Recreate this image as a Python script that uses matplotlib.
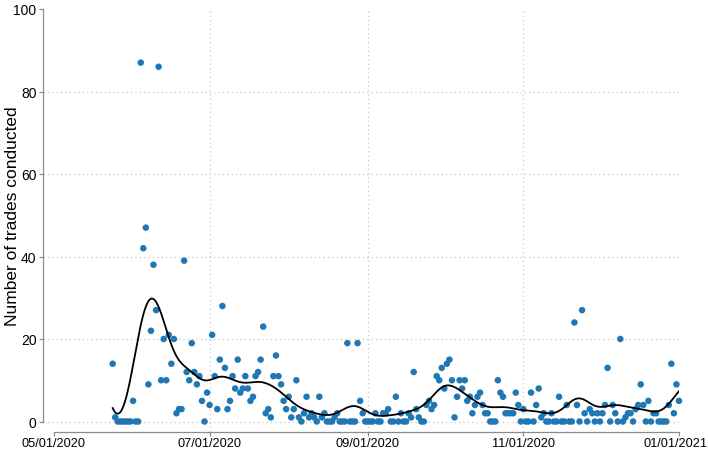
import numpy as np
import pandas as pd
import matplotlib
matplotlib.use("Agg")
import matplotlib.pyplot as plt
import matplotlib.dates as mdates
import matplotlib.transforms as mtransforms

# ---- data: daily number of trades, 24 May 2020 .. 1 Jan 2021 ----
start_date = "2020-05-24"
may = [14, 1, 0, 0, 0, 0, 0, 0]
jun = [5, 0, 0, 87, 42, 47, 9, 22, 38, 27, 86, 10, 20, 10, 21, 14, 20, 2, 3, 3,
       39, 12, 10, 19, 12, 9, 11, 5, 0, 7]
jul = [4, 21, 11, 3, 15, 28, 13, 3, 5, 11, 8, 15, 7, 8, 11, 8, 5, 6, 11, 12,
       15, 23, 2, 3, 1, 11, 16, 11, 9, 5, 3]
aug = [6, 1, 3, 10, 1, 0, 2, 6, 1, 2, 1, 0, 6, 1, 2, 0, 0, 0, 1, 2,
       0, 0, 0, 19, 0, 0, 0, 19, 5, 2, 0]
sep = [0, 0, 0, 2, 0, 0, 2, 2, 3, 0, 0, 6, 0, 2, 0, 0, 2, 1, 12, 3,
       1, 0, 0, 4, 5, 3, 4, 11, 10, 13]
oct_ = [8, 14, 15, 10, 1, 6, 10, 8, 10, 5, 6, 2, 4, 6, 7, 4, 2, 2, 0, 0,
        0, 10, 7, 6, 2, 2, 2, 2, 7, 4, 0]
nov = [3, 0, 0, 7, 0, 4, 8, 1, 2, 0, 0, 2, 0, 0, 6, 0, 0, 4, 0, 0,
       24, 4, 0, 27, 2, 0, 3, 2, 0, 2]
dec = [0, 2, 4, 13, 0, 4, 2, 0, 20, 0, 1, 2, 2, 0, 3, 4, 9, 4, 0, 5,
       0, 2, 2, 0, 0, 0, 0, 4, 14, 2, 9]
jan = [5]

values = np.array(may + jun + jul + aug + sep + oct_ + nov + dec + jan, dtype=float)
dates = pd.date_range(start_date, periods=len(values), freq="D")

tick_dates = pd.to_datetime(["2020-05-01", "2020-07-01", "2020-09-01",
                             "2020-11-01", "2021-01-01"])
y_ticks = [0, 20, 40, 60, 80, 100]

# ---- local linear smoother (Gaussian kernel) ----
t = (dates - dates[0]).days.values.astype(float)
grid = np.linspace(t.min(), t.max(), 800)
bw = 4.4
smooth = np.empty_like(grid)
for i, g in enumerate(grid):
    w = np.exp(-0.5 * ((t - g) / bw) ** 2)
    X = np.column_stack([np.ones_like(t), t - g])
    W = X * w[:, None]
    beta = np.linalg.solve(X.T @ W, W.T @ values)
    smooth[i] = beta[0]
grid_dates = dates[0] + pd.to_timedelta(grid, unit="D")

# ---- figure ----
plt.rcParams['font.family'] = ['Liberation Sans', 'DejaVu Sans']
W_PX, H_PX = 708, 452
fig = plt.figure(figsize=(W_PX / 100, H_PX / 100), dpi=100)
ax_left, ax_right, ax_top, ax_bottom = 43, 679, 10, 432.5
ax = fig.add_axes([ax_left / W_PX, (H_PX - ax_bottom) / H_PX,
                   (ax_right - ax_left) / W_PX, (ax_bottom - ax_top) / H_PX])

y0_px = 422.5
px_per_unit = (y0_px - ax_top) / 100.0
px_per_day = (ax_right - 54) / 245.0
left_pad_days = (54 - ax_left) / px_per_day
ax.set_xlim(tick_dates[0] - pd.Timedelta(days=left_pad_days), tick_dates[-1])
ax.set_ylim(-(ax_bottom - y0_px) / px_per_unit, 100)

grid_col = "#c8c8c8"
for yv in [0, 20, 40, 60, 80]:
    ax.axhline(yv, color=grid_col, lw=0.9, ls=(0, (1, 2.5)), zorder=0)
for xv in tick_dates[1:-1]:
    ax.axvline(xv, color=grid_col, lw=0.9, ls=(0, (1, 2.5)), zorder=0)

ax.scatter(dates, values, s=22, color="#1f77b4", edgecolors="none", zorder=3, clip_on=False)
ax.plot(grid_dates, smooth, color="black", lw=1.3, zorder=4)

for side in ["top", "right"]:
    ax.spines[side].set_visible(False)
spine_col = "#8c8c8c"
for side in ["left", "bottom"]:
    ax.spines[side].set_color(spine_col)
    ax.spines[side].set_linewidth(0.9)
ax.spines["left"].set_bounds(0, 100)
ax.spines["bottom"].set_bounds(mdates.date2num(tick_dates[0]), mdates.date2num(tick_dates[-1]))

ax.set_yticks(y_ticks)
ax.set_yticklabels([str(v) for v in y_ticks])
ax.set_xticks(tick_dates)
ax.set_xticklabels([d.strftime("%m/%d/%Y") for d in tick_dates])
ax.tick_params(axis="both", direction="out", length=3.2, width=0.9, color=spine_col,
               labelcolor="black")
ax.tick_params(axis="y", labelsize=10, pad=1.5)
ax.tick_params(axis="x", labelsize=9.2, pad=1.0)
xlabels = ax.get_xticklabels()
shift = mtransforms.ScaledTranslation(-3 / 100, 0, fig.dpi_scale_trans)
xlabels[-1].set_transform(xlabels[-1].get_transform() + shift)

fig.text(13 / W_PX, (H_PX - (ax_top + y0_px) / 2) / H_PX, "Number of trades conducted",
         rotation=90, ha="center", va="center", fontsize=12.5)

fig.savefig("out.png", dpi=100)
